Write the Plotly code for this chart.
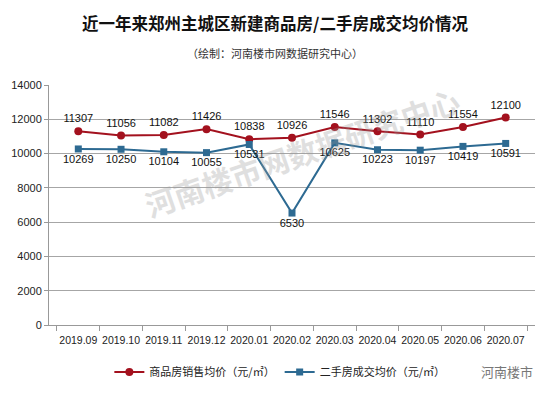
import plotly.graph_objects as go

months = ["2019.09", "2019.10", "2019.11", "2019.12", "2020.01", "2020.02",
          "2020.03", "2020.04", "2020.05", "2020.06", "2020.07"]
new_price = [11307, 11056, 11082, 11426, 10838, 10926, 11546, 11302, 11110, 11554, 12100]
second_price = [10269, 10250, 10104, 10055, 10531, 6530, 10625, 10223, 10197, 10419, 10591]

FONT = "Noto Sans CJK SC"
NUMFONT = "Liberation Sans"
RED = "#A3111E"
BLUE = "#2D6A92"

fig = go.Figure()
fig.add_trace(go.Scatter(
    x=months, y=new_price, name="商品房销售均价（元/㎡）",
    mode="lines+markers+text", text=[str(v) for v in new_price],
    textposition="top center", textfont=dict(size=11, color="#111", family=NUMFONT),
    line=dict(color=RED, width=2), marker=dict(symbol="circle", size=8, color=RED),
))
fig.add_trace(go.Scatter(
    x=months, y=second_price, name="二手房成交均价（元/㎡）",
    mode="lines+markers+text", text=[str(v) for v in second_price],
    textposition="bottom center", textfont=dict(size=11, color="#111", family=NUMFONT),
    line=dict(color=BLUE, width=2), marker=dict(symbol="square", size=7, color=BLUE),
))

# page body has an 8px default margin, so the figure is sized/offset to compensate
fig.update_layout(
    width=542, height=390,
    margin=dict(l=41, r=15, t=77, b=71),
    paper_bgcolor="white", plot_bgcolor="white",
    font=dict(family=FONT, size=11, color="#222"),
    showlegend=True,
    legend=dict(orientation="h", x=0.475, xanchor="center", y=-0.135, yanchor="top",
                font=dict(size=11, color="#222"), itemwidth=30),
    xaxis=dict(type="category", showgrid=False, showline=True, linecolor="#999",
               ticks="outside", tickson="boundaries", ticklen=5, tickcolor="#999",
               tickangle=0, automargin=False, ticklabelstandoff=5,
               tickfont=dict(size=10.5, color="#222", family=NUMFONT)),
    yaxis=dict(range=[0, 14000], dtick=2000, tickformat="d", showgrid=True, gridcolor="#A6A6A6",
               showline=True, linecolor="#999", ticks="outside", ticklen=4, tickcolor="#999",
               automargin=False,
               tickfont=dict(size=11, color="#222", family=NUMFONT), zeroline=False),
    annotations=[
        dict(text="<b>近一年来郑州主城区新建商品房/二手房成交均价情况</b>", xref="paper", yref="paper",
             x=0.465, y=1, yshift=62, xanchor="center", yanchor="middle", showarrow=False,
             font=dict(size=16.5, color="#111", family=FONT)),
        dict(text="（绘制：河南楼市网数据研究中心）", xref="paper", yref="paper",
             x=0.465, y=1, yshift=32, xanchor="center", yanchor="middle", showarrow=False,
             font=dict(size=11, color="#333", family=FONT)),
        dict(text="<b>河南楼市网数据研究中心</b>", xref="paper", yref="paper",
             x=0.52, y=0.72, xanchor="center", yanchor="middle", showarrow=False,
             textangle=-19, opacity=0.3,
             font=dict(size=30, color="#999", family=FONT)),
        dict(text="河南楼市", xref="paper", yref="paper",
             x=1.0, y=-0.145, yshift=0, xanchor="right", yanchor="top", showarrow=False,
             font=dict(size=13, color="#777", family=FONT)),
    ],
)

fig.write_html("out.html")
